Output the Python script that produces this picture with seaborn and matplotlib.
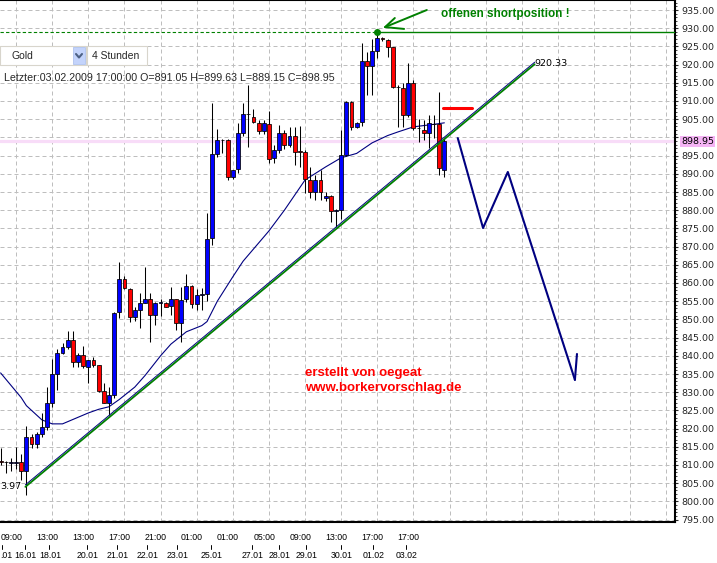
import numpy as np
import pandas as pd
import matplotlib
matplotlib.use("Agg")
import matplotlib.pyplot as plt
import matplotlib.transforms as mtransforms
from matplotlib.patches import Rectangle
from matplotlib.lines import Line2D
from matplotlib.ticker import MultipleLocator, FixedLocator
import seaborn as sns

# ---------------- data ----------------
opens = [811.0, 810.9, 810.6, 810.6, 810.9, 808.4, 817.6, 815.8, 818.5, 820.5,
         827.0, 835.0, 840.9, 842.5, 844.3, 838.4, 840.2, 837.0, 838.8, 837.5,
         830.3, 827.1, 829.2, 851.9, 861.0, 858.3, 850.7, 852.6, 854.6, 855.5,
         851.2, 854.6, 854.4, 853.7, 855.5, 849.1, 855.5, 859.2, 854.2, 856.8,
         857.0, 872.3, 895.4, 899.2, 899.3, 889.2, 891.2, 901.3, 906.4, 905.7,
         903.9, 901.8, 903.7, 894.3, 896.5, 901.3, 897.9, 900.4, 896.3, 896.1,
         888.3, 885.1, 888.3, 883.3, 883.9, 879.9, 880.1, 895.2, 909.8, 902.9,
         904.3, 921.0, 919.7, 923.8, 927.2, 926.8, 924.7, 913.8, 913.5, 906.2,
         915.0, 902.5, 902.0, 901.1, 903.7, 903.7, 891.05]
highs = [814.6, 811.2, 811.8, 814.9, 813.0, 820.8, 818.5, 819.0, 824.2, 831.5,
         839.0, 842.0, 843.4, 846.8, 846.8, 840.9, 842.7, 838.8, 839.6, 837.6,
         832.6, 831.5, 852.0, 865.9, 862.0, 858.5, 853.5, 857.2, 864.5, 857.2,
         854.8, 855.5, 854.7, 859.0, 855.7, 859.0, 862.5, 859.5, 858.3, 858.5,
         879.1, 909.4, 902.2, 899.5, 899.5, 891.0, 903.9, 909.4, 914.4, 907.7,
         904.8, 904.8, 907.3, 897.9, 903.4, 902.0, 902.9, 902.9, 903.0, 896.5,
         891.8, 889.7, 891.1, 885.0, 884.1, 880.3, 902.0, 910.0, 910.0, 904.2,
         925.8, 923.5, 927.0, 929.0, 927.5, 927.0, 924.9, 914.4, 914.9, 920.4,
         915.8, 905.0, 904.8, 906.2, 906.2, 912.6, 899.63]
lows = [810.0, 807.7, 808.4, 808.8, 806.0, 801.8, 814.6, 814.6, 817.8, 819.6,
        826.0, 830.6, 840.5, 842.0, 836.8, 836.8, 836.6, 832.4, 837.0, 830.0,
        827.0, 823.7, 828.5, 850.3, 858.3, 849.4, 849.6, 847.6, 854.5, 843.9,
        848.5, 851.0, 853.3, 851.2, 847.1, 843.9, 854.9, 853.0, 852.6, 852.6,
        855.0, 870.4, 894.5, 895.6, 888.3, 888.5, 890.1, 900.4, 897.3, 903.9,
        900.9, 900.9, 892.9, 893.1, 895.6, 896.7, 897.5, 892.4, 892.0, 884.6,
        883.3, 882.8, 882.8, 882.6, 876.8, 875.5, 877.5, 895.0, 902.0, 902.7,
        903.0, 911.6, 911.6, 921.7, 926.5, 922.2, 913.5, 902.9, 902.9, 905.7,
        902.0, 898.8, 899.3, 897.0, 899.7, 889.7, 889.15]
closes = [810.9, 810.9, 810.8, 810.8, 808.4, 817.6, 815.8, 818.5, 820.5, 826.9,
          835.0, 840.7, 842.3, 844.3, 838.4, 840.2, 837.2, 838.8, 837.6, 830.4,
          827.1, 829.2, 851.7, 861.0, 858.5, 850.7, 852.6, 854.6, 855.5, 851.2,
          854.6, 854.7, 853.5, 855.5, 849.1, 855.3, 859.2, 854.2, 856.7, 857.0,
          872.0, 895.4, 899.3, 899.3, 889.2, 891.0, 901.1, 906.4, 906.5, 904.1,
          901.8, 903.9, 894.0, 896.5, 901.3, 897.9, 900.4, 896.1, 896.0, 888.5,
          885.1, 888.3, 885.1, 883.9, 879.9, 880.1, 895.2, 909.8, 902.9, 904.0,
          921.0, 919.7, 923.7, 927.2, 926.9, 924.9, 913.8, 913.9, 906.2, 915.0,
          902.5, 902.6, 901.1, 903.9, 903.8, 891.5, 898.95]

# moving average read at selected bars
ma_bar = [0, 4, 5, 8, 10, 12, 14, 17, 19, 21, 23, 26, 28, 31, 33, 36, 39, 40, 42,
          45, 47, 52, 55, 59, 63, 66, 69, 72, 75, 77, 80, 84, 86]
ma_val = [835.3, 828.5, 826.3, 822.4, 821.3, 821.3, 822.5, 824.3, 825.3, 826.0,
          828.0, 831.4, 834.6, 840.0, 843.2, 846.6, 848.3, 849.4, 855.0, 861.7,
          866.0, 874.3, 880.0, 888.3, 891.9, 894.4, 895.6, 898.5, 900.5, 901.5,
          902.9, 903.6, 904.0]

# trend line (bar, price)
trend_bar = [4.8, 103.5]
trend_price = [804.0, 920.1]
trend_start_label = "3.97"      # visible part of 803.97 at the left edge
trend_end_label = "920.33"

# projected zig-zag (bar, price)
proj_bar = [88.6, 93.5, 98.3, 111.3]
proj_price = [899.8, 875.1, 890.5, 833.4]

short_level = 929.0
short_bar = 73
stop_bar = [85.8, 91.3]
stop_price = 908.2
last_price = 898.95

y_ticks = list(range(795, 940, 5))
time_labels = ["09:00", "13:00", "13:00", "17:00", "21:00", "01:00",
               "01:00", "05:00", "09:00", "13:00", "17:00", "17:00"]
date_labels = [".01", "16.01", "18.01", "20.01", "21.01", "22.01", "23.01",
               "25.01", "27.01", "28.01", "29.01", "30.01", "01.02", "03.02"]

# ---------------- layout helpers ----------------
W, H = 717, 563
BAR_PX = 5.16
X0_PX = 0.6
date_px = [6.0, 25.5, 50, 88, 118, 148, 178, 212, 253, 280, 307, 342, 374, 407]

sns.set_style("white")
plt.rcParams['font.family'] = ['Liberation Sans', 'DejaVu Sans']

fig = plt.figure(figsize=(W / 100, H / 100), dpi=100)
fig.patch.set_facecolor("white")
ax = fig.add_axes([0, 41 / H, 675 / W, 522 / H])
ax.set_facecolor("white")

xmin = (0 - X0_PX) / BAR_PX
xmax = (675 - X0_PX) / BAR_PX
ax.set_xlim(xmin, xmax)
ax.set_ylim(935 - 512 / 3.64, 935 + 10 / 3.64)

# grid
grid_bars = [3 + 7 * k for k in range(19)]
ax.set_xticks(grid_bars)
ax.set_xticklabels([])
ax.xaxis.set_minor_locator(FixedLocator(np.arange(0, 131, 2)))
ax.set_yticks(y_ticks)
ax.set_yticklabels(["" if abs(v - 900) < 1e-6 else f"{v:.2f}" for v in y_ticks])
ax.yaxis.set_minor_locator(MultipleLocator(1))
ax.yaxis.tick_right()
ax.grid(True, which="major", color="#BEBEBE", linestyle=(0, (4, 3)), linewidth=0.72, zorder=0)
ax.set_axisbelow(True)

ax.tick_params(axis="x", which="major", length=0, labelbottom=False)
ax.tick_params(axis="x", which="minor", length=2.2, width=0.7, color="black", direction="out")
ax.tick_params(axis="y", which="major", length=2.4, width=0.8, pad=2.0,
               labelsize=6.8, direction="out", right=True, left=False)
ax.tick_params(axis="y", which="minor", length=1.3, width=0.6, right=True, left=False)
for lab in ax.get_yticklabels():
    lab.set_fontfamily("DejaVu Sans")

ax.spines["left"].set_visible(False)
for s in ["right", "bottom", "top"]:
    ax.spines[s].set_color("black")
    ax.spines[s].set_linewidth(1.5)

# last price band
ax.axhline(last_price, color="#F8DCF8", lw=2.3, zorder=1)

# moving average
sns.lineplot(x=ma_bar, y=ma_val, ax=ax, color="#000080", linewidth=0.8,
             sort=True, legend=False, zorder=2)

# candles
df = pd.DataFrame({"o": opens, "h": highs, "l": lows, "c": closes})
df["i"] = np.arange(len(df))
up = df["c"] >= df["o"]
colors = np.where(up, "#0000FF", "#FF0000")
ax.vlines(df["i"], df["l"], df["h"], color="black", linewidth=0.75, zorder=4)
body_bottom = np.minimum(df["o"], df["c"])
body_h = np.maximum(np.abs(df["c"] - df["o"]), 0.05)
ax.bar(df["i"], body_h, bottom=body_bottom, width=0.74, color=colors,
       edgecolor="black", linewidth=0.55, zorder=5)

# trend lines (navy + green)
ax.plot(trend_bar, [p + 0.55 for p in trend_price], color="#000080", lw=0.7, zorder=6)
ax.plot(trend_bar, trend_price, color="#008000", lw=1.3, zorder=6)
ax.text(trend_bar[1] - 0.1, 920.33, trend_end_label, ha="left", va="center",
        fontsize=6.8, family="DejaVu Sans", color="black", zorder=7)
ax.text(3.95, 803.97, trend_start_label, ha="right", va="center",
        fontsize=6.8, family="DejaVu Sans", color="black", zorder=7)

# short position level
ax.plot([xmin, short_bar], [short_level, short_level], color="#008000", lw=0.8,
        linestyle=(0, (3, 2)), zorder=6)
ax.plot([short_bar, xmax], [short_level, short_level], color="#008000", lw=1.0, zorder=6)
ax.plot([short_bar], [short_level], "o", color="#008000", ms=4, zorder=7)

# green hand-drawn arrow
ax.plot([82.6, 74.5], [935.0, 930.3], color="#008000", lw=1.4, zorder=7, clip_on=False)
ax.plot([76.4, 74.5, 78.2], [932.8, 930.3, 929.8], color="#008000", lw=1.4, zorder=7)
ax.text(85.3, 933.8, "offenen shortposition !", color="#008000", fontsize=8.5,
        fontweight="bold", ha="left", va="center", zorder=7)

# red stop mark
ax.plot(stop_bar, [stop_price, stop_price], color="#FF0000", lw=2.2, zorder=7)

# projection zig-zag
ax.plot(proj_bar, proj_price, color="#000080", lw=1.5, zorder=7)
ax.plot([111.7, proj_bar[-1]], [840.5, proj_price[-1]], color="#000080", lw=1.5, zorder=7)

# author text
ax.text(59.0, 835.4, "erstellt von oegeat", color="#FF0000", fontsize=9.5,
        fontweight="bold", ha="left", va="center", zorder=7)
ax.text(59.0, 831.1, "www.borkervorschlag.de", color="#FF0000", fontsize=9.5,
        fontweight="bold", ha="left", va="center", zorder=7)

# last price label on axis
ax.annotate(f"{last_price:.2f}", xy=(1.0, last_price), xycoords=("axes fraction", "data"),
            xytext=(4.3, 0), textcoords="offset points", ha="left", va="center",
            fontsize=6.8, family="DejaVu Sans", color="black",
            bbox=dict(boxstyle="square,pad=0.12", fc="#F5B4F5", ec="none"),
            annotation_clip=False)

# x-axis labels (two rows)
trans = mtransforms.blended_transform_factory(ax.transData, ax.transAxes)
for k, lab in enumerate(time_labels):
    ax.text(grid_bars[k] - 0.91, -0.030, lab, transform=trans, ha="center", va="center",
            fontsize=6.3, color="black", clip_on=False)
for px, lab in zip(date_px, date_labels):
    b = (px - X0_PX) / BAR_PX
    ax.text(b, -0.0638, lab, transform=trans, ha="center", va="center",
            fontsize=6.3, color="black", clip_on=False)
tick_px = [1.5] + [p - 1 for p in date_px[1:]]
for px in tick_px:
    tb = (px - X0_PX) / BAR_PX
    ax.add_line(Line2D([tb, tb], [-0.0441, -0.0517], transform=trans, color="black",
                       lw=0.7, clip_on=False))

# header widgets (figure pixel coords)
def fx(x):
    return x / W

def fy(y):
    return 1 - y / H

fig.add_artist(Rectangle((fx(0), fy(65)), 86 / W, 19 / H, transform=fig.transFigure,
                         fc="white", ec="#D8D5CC", lw=0.8, zorder=10))
fig.add_artist(Rectangle((fx(73), fy(64)), 12 / W, 17 / H, transform=fig.transFigure,
                         fc="#C3D3FB", ec="#AFC2EE", lw=0.6, zorder=11))
fig.add_artist(Line2D([fx(76), fx(79), fx(82)], [fy(54), fy(57.5), fy(54)],
                      transform=fig.transFigure, color="#4D6185", lw=1.5, zorder=12))
fig.add_artist(Rectangle((fx(87), fy(65)), 60 / W, 19 / H, transform=fig.transFigure,
                         fc="white", ec="#D8D5CC", lw=0.8, zorder=10))
fig.text(fx(11), fy(56), "Gold", fontsize=7.5, va="center", ha="left", zorder=12)
fig.text(fx(92.5), fy(56), "4 Stunden", fontsize=7.5, va="center", ha="left", zorder=12)
fig.text(fx(4), fy(77.7),
         "Letzter:03.02.2009 17:00:00 O=891.05 H=899.63 L=889.15 C=898.95",
         fontsize=7.7, va="center", ha="left", zorder=12)

fig.savefig("out.png", dpi=100, facecolor="white")
